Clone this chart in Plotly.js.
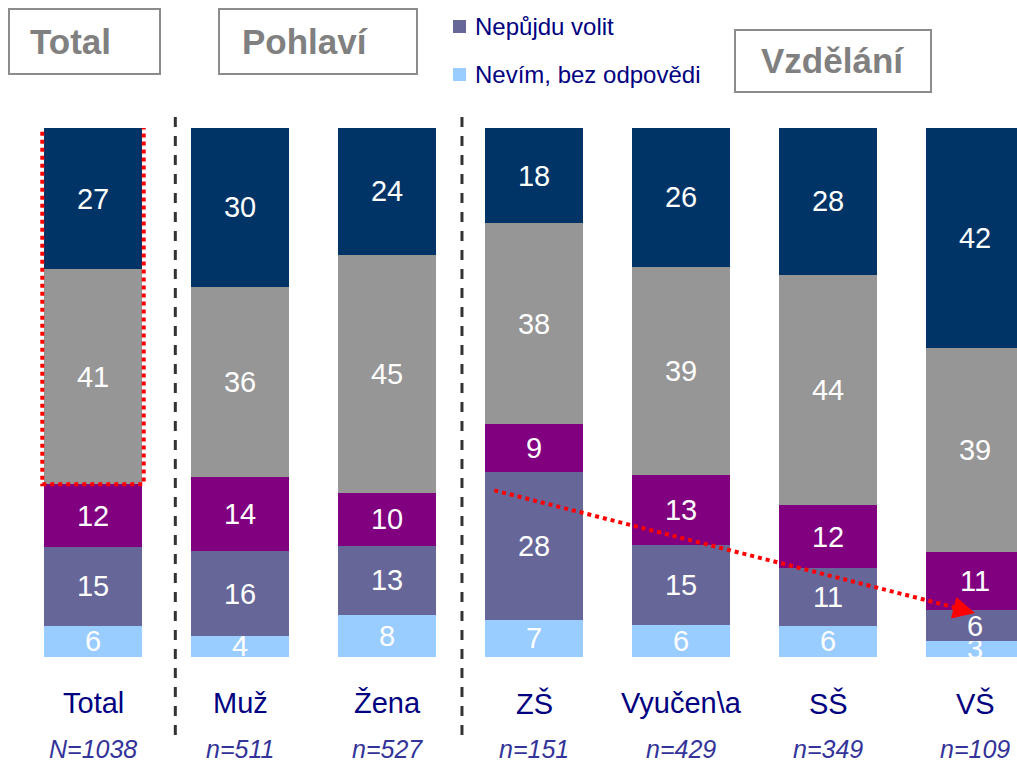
<!DOCTYPE html>
<html><head><meta charset="utf-8">
<script src="https://cdn.plot.ly/plotly-3.0.1.min.js"></script>
<style>body{margin:0;background:#fff}#c{width:1017px;height:765px}</style>
</head><body><div id="c"></div>
<script>
const categories = ["Total","Muž","Žena","ZŠ","Vyučen\\a","SŠ","VŠ"];
const sampleSizes = ["N=1038","n=511","n=527","n=151","n=429","n=349","n=109"];
const seriesNames = ["Nevím, bez odpovědi","Nepůjdu volit","Spíše půjdu volit","Půjdu volit","Určitě půjdu volit"];
const nevim    = [6, 4, 8, 7, 6, 6, 3];
const nepujdu  = [15,16,13,28,15,11, 6];
const spise    = [12,14,10, 9,13,12,11];
const pujdu    = [41,36,45,38,39,44,39];
const urcite   = [27,30,24,18,26,28,42];
const groupTitles = ["Total","Pohlaví","Vzdělání"];
const colors = ["#99CCFF","#666699","#800080","#969696","#003366"];

const series = [nevim, nepujdu, spise, pujdu, urcite];
const xs = categories.map((c,i)=>i);
const traces = series.map((vals,k)=>({
  type:'bar', x:xs, y:vals, name:seriesNames[k],
  marker:{color:colors[k], line:{width:0}},
  text:vals.map(String), textposition:'inside', insidetextanchor:'middle',
  textangle:0, constraintext:'none',
  textfont:{family:'Arial, Liberation Sans, sans-serif', size:29, color:'#ffffff'},
  hoverinfo:'skip', showlegend:false, cliponaxis:false
}));

const W=1017, PT=128, PB=657, PH=PB-PT;
const px2x = p=>p/W;
const py2y = p=>(PB-p)/PH;

const shapes = [];
const annotations = [];
const boxes = [[9,160,9,74,70],[219,417,9,74,305],[735,931,30,92,832]];
boxes.forEach((b,i)=>{
  shapes.push({type:'rect',xref:'paper',yref:'paper',x0:px2x(b[0]),x1:px2x(b[1]),y0:py2y(b[3]),y1:py2y(b[2]),
    line:{color:'#8c8c8c',width:2},fillcolor:'rgba(0,0,0,0)'});
  annotations.push({xref:'paper',yref:'paper',x:px2x(b[4]),y:py2y((b[2]+b[3])/2),
    text:'<b>'+groupTitles[i]+'</b>',showarrow:false,xanchor:'center',yanchor:'middle',
    font:{family:'Arial, Liberation Sans, sans-serif',size:35,color:'#808080'}});
});
[[1,27],[0,75]].forEach(([k,py])=>{
  shapes.push({type:'rect',xref:'paper',yref:'paper',x0:px2x(453),x1:px2x(466),y0:py2y(py+6),y1:py2y(py-7),
    line:{width:0},fillcolor:colors[k]});
  annotations.push({xref:'paper',yref:'paper',x:px2x(473),y:py2y(py),text:seriesNames[k],showarrow:false,
    xanchor:'left',yanchor:'middle',font:{family:'Arial, Liberation Sans, sans-serif',size:24,color:'#000080'}});
});
categories.forEach((c,i)=>{
  annotations.push({xref:'x',yref:'paper',x:i,y:py2y(703),text:c,showarrow:false,xanchor:'center',yanchor:'middle',
    font:{family:'Arial, Liberation Sans, sans-serif',size:29,color:'#000080'}});
  annotations.push({xref:'x',yref:'paper',x:i,y:py2y(749),text:'<i>'+sampleSizes[i]+'</i>',showarrow:false,xanchor:'center',yanchor:'middle',
    borderpad:0,font:{family:'Arial, Liberation Sans, sans-serif',size:25,color:'#333399'}});
});
[0.56,2.51].forEach(x=>{
  shapes.push({type:'line',xref:'x',yref:'paper',x0:x,x1:x,y0:py2y(735),y1:py2y(112),
    line:{color:'#333333',width:3,dash:'10px,9px'}});
});
const tot0 = series.reduce((s,a)=>s+a[0],0);
const lowTot = (nevim[0]+nepujdu[0]+spise[0])/tot0*100;
shapes.push({type:'rect',xref:'x',yref:'y',x0:-0.345,x1:0.345,y0:lowTot,y1:100.5,
  line:{color:'#ff0000',width:4,dash:'dot'},fillcolor:'rgba(0,0,0,0)'});
const norm = i=>series.reduce((s,a)=>s+a[i],0);
const yStart = (nevim[3]+nepujdu[3])/norm(3)*100 - 3.5;
const yEnd = (nevim[6]+nepujdu[6])/norm(6)*100 - 0.6;
shapes.push({type:'line',xref:'x',yref:'y',x0:2.73,x1:5.9,y0:yStart,y1:yEnd+0.8,
  line:{color:'#ff0000',width:4,dash:'dot'}});
annotations.push({xref:'x',yref:'y',x:6.0,y:yEnd,ax:-24,ay:-6,text:'',showarrow:true,
  arrowhead:2,arrowsize:1.1,arrowwidth:4,arrowcolor:'#ff0000'});

const layout = {
  width:1017,height:765,
  margin:{l:0,r:0,t:PT,b:765-PB,pad:0},
  paper_bgcolor:'#ffffff',plot_bgcolor:'#ffffff',
  barmode:'stack',barnorm:'percent',bargap:0.333,
  xaxis:{type:'linear',range:[-93/147,(W-93)/147],showgrid:false,zeroline:false,showticklabels:false,ticks:'',showline:false,fixedrange:true},
  yaxis:{range:[0,100],showgrid:false,zeroline:false,showticklabels:false,ticks:'',showline:false,fixedrange:true},
  showlegend:false,shapes:shapes,annotations:annotations,
  font:{family:'Arial, Liberation Sans, sans-serif'}
};
Plotly.newPlot('c',traces,layout,{displayModeBar:false,staticPlot:true});
</script></body></html>
